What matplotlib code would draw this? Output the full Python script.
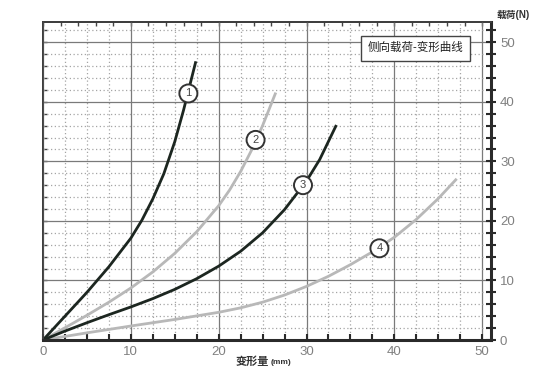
import numpy as np
import matplotlib
matplotlib.use('Agg')
import matplotlib.pyplot as plt
from matplotlib.ticker import MultipleLocator

plt.rcParams['font.family'] = ['Liberation Sans', 'Noto Sans CJK SC']

# curve 1 (dark)
x1 = [0, 2.5, 5, 7.5, 10, 11.25, 12.5, 13.75, 15, 16, 17.4]
y1 = [0, 4.0, 8.0, 12.3, 17.1, 20.1, 23.7, 27.9, 33.3, 38.6, 46.8]
# curve 2 (light)
x2 = [0, 2.5, 5, 7.5, 10, 12.5, 15, 17.5, 20, 21.25, 22.5, 23.75, 25, 26.5]
y2 = [0, 2.05, 4.15, 6.35, 8.73, 11.43, 14.55, 18.18, 22.55, 25.2, 28.3, 31.9, 36.0, 41.55]
# curve 3 (dark)
x3 = [0, 2.5, 5, 7.5, 10, 12.5, 15, 17.5, 20, 22.5, 25, 27.5, 30, 31.5, 33.4]
y3 = [0, 1.5, 2.9, 4.25, 5.55, 6.95, 8.5, 10.3, 12.4, 14.9, 18.0, 21.9, 26.7, 30.3, 36.1]
# curve 4 (light)
x4 = [0, 5, 10, 15, 20, 22.5, 25, 27.5, 30, 32.5, 35, 37.5, 40, 42.5, 45, 47.1]
y4 = [0, 1.2, 2.35, 3.45, 4.65, 5.4, 6.35, 7.55, 9.0, 10.7, 12.65, 14.8, 17.25, 20.25, 23.75, 27.07]

curve_labels = ['1', '2', '3', '4']
label_x = [16.55, 24.2, 29.6, 38.3]
label_y = [41.4, 33.6, 26.0, 15.4]

DARK = '#1c2620'
LIGHT = '#b8b8b8'

fig = plt.figure(figsize=(5.53, 3.9), dpi=100)
ax = fig.add_axes([0.0778, 0.1282, 0.81, 0.8154])

ax.set_xlim(0, 51)
ax.set_ylim(0, 53.4)

# grid
ax.xaxis.set_major_locator(MultipleLocator(10))
ax.xaxis.set_minor_locator(MultipleLocator(2.5))
ax.yaxis.set_major_locator(MultipleLocator(10))
ax.yaxis.set_minor_locator(MultipleLocator(2))
ax.grid(True, which='major', color='#7a7a7a', lw=0.9)
ax.grid(True, which='minor', color='#a5a5a5', lw=0.9, ls=(0, (1, 2)))
ax.set_axisbelow(True)

# curves
ax.plot(x4, y4, color=LIGHT, lw=2, solid_capstyle='butt', solid_joinstyle='round')
ax.plot(x2, y2, color=LIGHT, lw=2, solid_capstyle='butt', solid_joinstyle='round')
ax.plot(x3, y3, color=DARK, lw=2, solid_capstyle='butt', solid_joinstyle='round')
ax.plot(x1, y1, color=DARK, lw=2, solid_capstyle='butt', solid_joinstyle='round')

for t, lx, ly in zip(curve_labels, label_x, label_y):
    ax.text(lx, ly, t, fontsize=8, color='#444444', ha='center', va='center',
            bbox=dict(boxstyle='circle,pad=0.36', fc='white', ec='#333333', lw=1.4))

ax.text(42.4, 49.0, '侧向载荷-变形曲线', fontsize=8.3, color='#222222',
        ha='center', va='center',
        bbox=dict(boxstyle='square,pad=0.55', fc='white', ec='#444444', lw=1.0))

# spines
for s in ['left', 'top']:
    ax.spines[s].set_color('#444444')
    ax.spines[s].set_linewidth(1.2)
for s in ['right', 'bottom']:
    ax.spines[s].set_color('#2a2a2a')
    ax.spines[s].set_linewidth(2.2)

# ticks: y on right, crossing the spine
ax.yaxis.tick_right()
ax.tick_params(axis='y', which='both', direction='inout', length=7, width=1.5,
               color='#2a2a2a', labelsize=9.5, labelcolor='#808080', pad=3)
ax.tick_params(axis='x', which='both', direction='in', length=4, width=1.5,
               color='#2a2a2a', labelsize=9.5, labelcolor='#808080', pad=4)

# small inward ticks on top and left
top = ax.secondary_xaxis('top')
top.set_xticks(np.arange(0, 51, 2))
top.tick_params(direction='in', length=3, width=1.0, color='#444444', labeltop=False)
top.spines['top'].set_linewidth(1.2)
left = ax.secondary_yaxis('left')
left.set_yticks(np.arange(0, 54, 2))
left.tick_params(direction='in', length=3, width=1.0, color='#444444', labelleft=False)
left.spines['left'].set_linewidth(1.2)

fig.text(0.898, 0.962, '载荷(N)', fontsize=7, color='#333333', fontweight='bold',
         ha='left', va='center')
fig.text(0.486, 0.072, '变形量', fontsize=8, color='#333333', fontweight='bold',
         ha='right', va='center')
fig.text(0.489, 0.070, '(mm)', fontsize=6, color='#333333', fontweight='bold',
         ha='left', va='center')

fig.savefig('out.png', dpi=100)
